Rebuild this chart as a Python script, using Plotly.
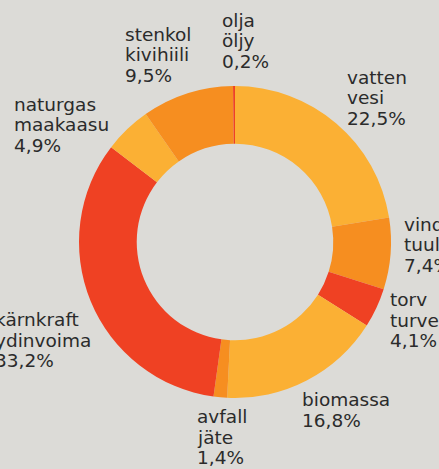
import plotly.graph_objects as go

W, H = 439, 469

sv_labels = ["vatten", "vind", "torv", "biomassa", "avfall", "kärnkraft", "naturgas", "stenkol", "olja"]
fi_labels = ["vesi", "tuuli", "turve", "biomassa", "jäte", "ydinvoima", "maakaasu", "kivihiili", "öljy"]
values = [22.5, 7.4, 4.1, 16.8, 1.4, 33.2, 4.9, 9.5, 0.2]
value_text = ["22,5%", "7,4%", "4,1%", "16,8%", "1,4%", "33,2%", "4,9%", "9,5%", "0,2%"]

YEL, ORA, RED = "#FBB034", "#F68E20", "#EF4123"
colors = [YEL, ORA, RED, YEL, ORA, RED, YEL, ORA, RED]

# label block: left x and first baseline in pixels (layout only)
label_pos = [(347, 83), (404, 230), (390, 305), (302, 405), (197, 422),
             (-5, 325), (14, 110), (125, 40), (222, 26)]
LINE = 20.5
FS = 18.5

cx, cy, r = 235, 242, 156
fig = go.Figure(go.Pie(
    values=values,
    labels=sv_labels,
    marker=dict(colors=colors, line=dict(width=0)),
    hole=0.63,
    sort=False,
    direction="clockwise",
    rotation=0,
    textinfo="none",
    showlegend=False,
    hoverinfo="label+percent",
    domain=dict(x=[(cx - r) / W, (cx + r) / W], y=[1 - (cy + r) / H, 1 - (cy - r) / H]),
))

for i, (px, py) in enumerate(label_pos):
    if sv_labels[i] == fi_labels[i]:
        lines = [sv_labels[i], value_text[i]]
    else:
        lines = [sv_labels[i], fi_labels[i], value_text[i]]
    for k, line in enumerate(lines):
        base = py + k * LINE
        fig.add_annotation(
            x=px / W, y=1 - (base - 5.5) / H, xref="paper", yref="paper",
            xanchor="left", yanchor="middle", align="left",
            text=line, showarrow=False, borderpad=0, xshift=-1,
            font=dict(family="DejaVu Sans", size=FS, color="#2b2b2b"),
        )

fig.update_layout(
    width=W, height=H,
    margin=dict(l=0, r=0, t=0, b=0),
    paper_bgcolor="#DCDBD7",
    plot_bgcolor="#DCDBD7",
)
fig.write_html("out.html", config={"displayModeBar": False},
               post_script="document.body.style.margin='0';document.body.style.overflow='hidden';")
